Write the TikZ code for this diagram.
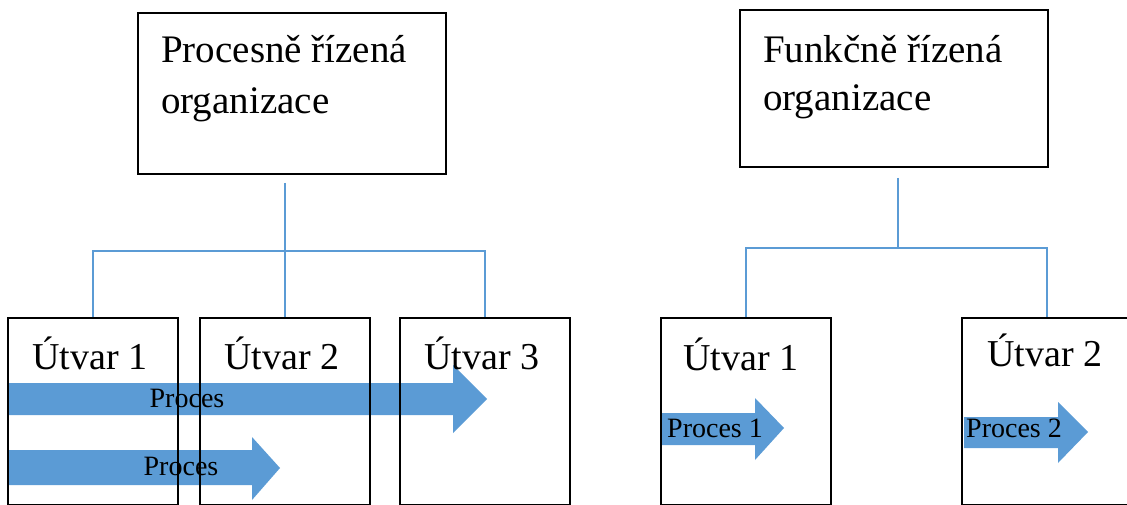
\documentclass[tikz,border=0pt]{standalone}
\usepackage{fontspec}
\setmainfont{Liberation Serif}
\definecolor{procblue}{HTML}{5B9BD5}
\definecolor{linkblue}{HTML}{5B9BD5}
\tikzset{
  orgbox/.style={draw=black, line width=1.6pt, inner sep=0pt, minimum width=308pt},
  unitbox/.style={draw=black, line width=1.6pt, inner sep=0pt, minimum width=170pt, minimum height=187pt},
  link/.style={draw=linkblue, line width=2pt},
  flow/.style={fill=procblue},
  ttl/.style={font=\fontsize{39}{47}\selectfont, anchor=base west, inner sep=0pt},
  utv/.style={font=\fontsize{38}{46}\selectfont, anchor=base, inner sep=0pt},
  lbl/.style={font=\fontsize{28}{34}\selectfont, anchor=base, inner sep=0pt},
}
\begin{document}
\begin{tikzpicture}[x=1pt,y=-1pt]
\useasboundingbox (0,0) rectangle (1127,505);

% process arrows across the units
\fill[flow] (9,383) -- (453,383) -- (453,365) -- (487,399) -- (453,433) -- (453,415) -- (9,415) -- cycle;
\fill[flow] (9,450) -- (252,450) -- (252,437) -- (280,468) -- (252,500) -- (252,485) -- (9,485) -- cycle;
\fill[flow] (660,413) -- (755,413) -- (755,398) -- (784,428) -- (755,460) -- (755,445) -- (660,445) -- cycle;
\fill[flow] (964,417) -- (1058,417) -- (1058,402) -- (1088,432) -- (1058,463) -- (1058,448) -- (964,448) -- cycle;

% process-driven organization
\node[orgbox, minimum height=161pt] (porg) at (292,93.5) {};
\node[ttl] (pt1) at (161,63) {Procesně řízená};
\node[ttl] (pt2) at (161,114) {organizace};
\node[unitbox] (pu1) at (93,411.5) {};
\node[unitbox] (pu2) at (285,411.5) {};
\node[unitbox] (pu3) at (485,411.5) {};
\node[utv] (pl1) at (90,369) {Útvar 1};
\node[utv] (pl2) at (282,369) {Útvar 2};
\node[utv] (pl3) at (482,369) {Útvar 3};
\node[lbl] (pp1) at (187,407) {Proces};
\node[lbl] (pp2) at (181,475) {Proces};

\coordinate (pstem) at (285,183);
\coordinate (pbus) at (285,251);
\draw[link] (pstem) -- (pu2.north);
\draw[link] (pu1.north) |- (pbus) -| (pu3.north);

% function-driven organization
\node[orgbox, minimum height=157pt] (forg) at (894,88.5) {};
\node[ttl] (ft1) at (763,63) {Funkčně řízená};
\node[ttl] (ft2) at (763,111) {organizace};
\node[unitbox] (fu1) at (746,411.5) {};
\node[unitbox] (fu2) at (1047,411.5) {};
\node[utv] (fl1) at (741,370) {Útvar 1};
\node[utv] (fl2) at (1045,366) {Útvar 2};
\node[lbl, anchor=base west] (fp1) at (667,437) {Proces 1};
\node[lbl, anchor=base west] (fp2) at (966,437) {Proces 2};

\coordinate (fstem) at (898,178);
\coordinate (fbus) at (898,248);
\draw[link] (fstem) -- (fbus);
\draw[link] (fu1.north) |- (fbus) -| (fu2.north);
\end{tikzpicture}
\end{document}
